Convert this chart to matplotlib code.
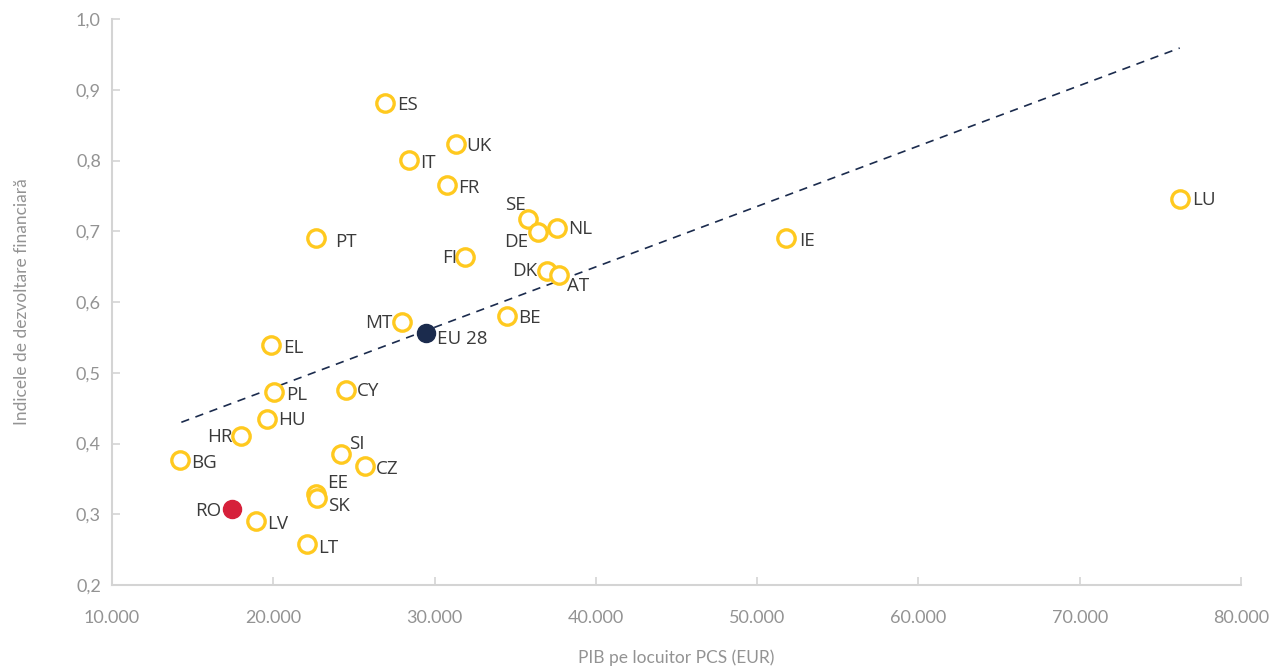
import numpy as np
import matplotlib
matplotlib.use("Agg")
import matplotlib.pyplot as plt
from matplotlib.ticker import FuncFormatter, MultipleLocator

# GDP per capita (PPS, EUR) vs. financial development index
countries = ["ES", "UK", "IT", "FR", "SE", "NL", "DE", "LU", "IE", "PT",
             "FI", "DK", "AT", "MT", "BE", "EL", "PL", "CY", "HU", "HR",
             "BG", "SI", "CZ", "EE", "SK", "LV", "LT"]
gdp = [26900, 31300, 28400, 30800, 35800, 37600, 36400, 76200, 51800, 22650,
       31900, 37000, 37700, 28000, 34500, 19850, 20050, 24500, 19600, 18000,
       14200, 24200, 25700, 22650, 22700, 18900, 22100]
fdi = [0.881, 0.823, 0.801, 0.765, 0.717, 0.705, 0.699, 0.746, 0.690, 0.690,
       0.664, 0.644, 0.638, 0.572, 0.580, 0.539, 0.473, 0.476, 0.435, 0.411,
       0.377, 0.385, 0.368, 0.329, 0.323, 0.290, 0.258]

ro_gdp, ro_fdi = 17450, 0.307
eu_gdp, eu_fdi = 29450, 0.556

# linear trend line end points
trend_x = [14300, 76200]
trend_y = [0.430, 0.959]

# label offsets in points (dx, dy, ha)
offsets = {
    "ES": (9, -1, "left"), "UK": (8, -1, "left"), "IT": (8, -2, "left"),
    "FR": (8, -2, "left"), "SE": (-2, 10, "right"), "NL": (8, -1, "left"),
    "DE": (-7, -7, "right"), "LU": (9, -1, "left"), "IE": (9, -2, "left"),
    "PT": (14, -3, "left"), "FI": (-6, -1, "right"), "DK": (-7, 0, "right"),
    "AT": (6, -8, "left"), "MT": (-7, -1, "right"), "BE": (8, -1, "left"),
    "EL": (9, -2, "left"), "PL": (9, -2, "left"), "CY": (8, -1, "left"),
    "HU": (8, -1, "left"), "HR": (-6, -1, "right"), "BG": (8, -2, "left"),
    "SI": (6, 7, "left"), "CZ": (8, -2, "left"), "EE": (8, 8, "left"),
    "SK": (8, -6, "left"), "LV": (8, -2, "left"), "LT": (8, -3, "left"),
}

yellow = "#FFC91F"
navy = "#1B2B4D"
red = "#D6203A"
label_color = "#3A3A3A"
tick_color = "#939393"
axis_color = "#D4D4D4"

plt.rcParams["font.family"] = ["Lato", "DejaVu Sans"]
label_font = ["Open Sans", "DejaVu Sans"]

fig = plt.figure(figsize=(12.77, 6.67), dpi=100)
ax = fig.add_axes([112 / 1277, 1 - 585 / 667, (1241 - 112) / 1277, (585 - 19) / 667])

ax.plot(trend_x, trend_y, linestyle=(0, (5, 4)), color=navy, linewidth=1.2, zorder=1)

ax.plot(gdp, fdi, linestyle="none", marker="o", markersize=12.5,
        markerfacecolor="white", markeredgecolor=yellow, markeredgewidth=2.4, zorder=3)
ax.plot([ro_gdp], [ro_fdi], linestyle="none", marker="o", markersize=13,
        color=red, zorder=4)
ax.plot([eu_gdp], [eu_fdi], linestyle="none", marker="o", markersize=13,
        color=navy, zorder=4)

for c, x, y in zip(countries, gdp, fdi):
    dx, dy, ha = offsets[c]
    ax.annotate(c, (x, y), xytext=(dx, dy), textcoords="offset points",
                ha=ha, va="center", fontsize=13.5, color=label_color,
                family=label_font, zorder=5)
ax.annotate("RO", (ro_gdp, ro_fdi), xytext=(-8, -1), textcoords="offset points",
            ha="right", va="center", fontsize=13.5, color=label_color,
            family=label_font, zorder=5)
ax.annotate("EU 28", (eu_gdp, eu_fdi), xytext=(8, -4), textcoords="offset points",
            ha="left", va="center", fontsize=13.5, color=label_color,
            family=label_font, zorder=5)

ax.set_xlim(10000, 80000)
ax.set_ylim(0.2, 1.0)
ax.xaxis.set_major_locator(MultipleLocator(10000))
ax.yaxis.set_major_locator(MultipleLocator(0.1))
ax.xaxis.set_major_formatter(FuncFormatter(lambda v, p: f"{int(round(v)):,}".replace(",", ".")))
ax.yaxis.set_major_formatter(FuncFormatter(lambda v, p: f"{v:.1f}".replace(".", ",")))

for side in ["top", "right"]:
    ax.spines[side].set_visible(False)
for side in ["left", "bottom"]:
    ax.spines[side].set_color(axis_color)
    ax.spines[side].set_linewidth(1.5)

ax.tick_params(axis="both", direction="in", length=6, width=1.2, color=axis_color,
               labelcolor=tick_color, labelsize=13)
ax.tick_params(axis="x", pad=18)
ax.tick_params(axis="y", pad=8)

ax.set_xlabel("PIB pe locuitor PCS (EUR)", fontsize=12.5, color=tick_color,
              labelpad=17)
ax.set_ylabel("Indicele de dezvoltare financiară", fontsize=12.5, color=tick_color,
              labelpad=33)

fig.savefig("out.png", dpi=100, facecolor="white")
